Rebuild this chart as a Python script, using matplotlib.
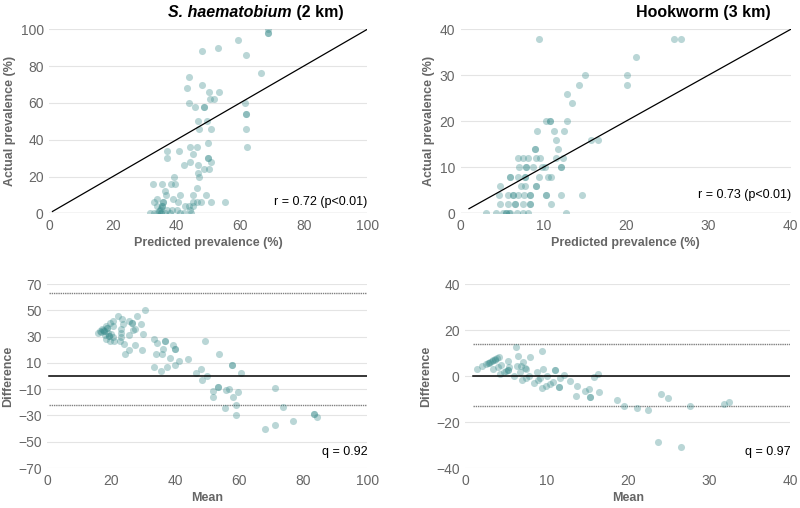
import numpy as np
import matplotlib
matplotlib.use('Agg')
import matplotlib.pyplot as plt

plt.rcParams['font.family'] = ['Liberation Sans', 'DejaVu Sans']

# S. haematobium (2 km): predicted vs actual prevalence
sh_pred = [68.9, 68.9, 68.9, 59.3, 47.9, 53.0, 61.8, 66.5, 44.0, 43.4, 48.0, 50.1, 53.3,
           50.5, 51.8, 43.8, 45.9, 48.6, 48.6, 61.6, 61.8, 61.8, 46.7, 49.7, 47.2, 50.7,
           62.0, 62.3, 44.4, 46.5, 49.9, 37.1, 40.9, 45.3, 36.9, 49.9, 49.9, 50.9, 44.2,
           46.7, 42.3, 48.8, 50.1, 46.7, 47.2, 39.2, 32.5, 35.4, 38.4, 39.6, 46.3, 36.5,
           36.7, 41.1, 45.1, 49.3, 38.8, 34.0, 33.0, 35.9, 35.9, 40.5, 45.3, 46.3, 47.6,
           50.9, 55.3, 33.8, 35.6, 35.6, 42.8, 43.8, 45.3, 34.8, 36.9, 38.6, 40.2, 44.4,
           31.7, 33.0, 33.8, 35.2, 35.2, 36.3, 38.0, 41.1, 42.3, 44.6, 34.5, 35.0]
sh_act = [100, 98, 98, 94, 88, 90, 86, 76, 74, 68, 70, 66, 66,
          62, 62, 60, 58, 58, 58, 60, 54, 54, 50, 50, 46, 46,
          46, 36, 36, 36, 38, 34, 34, 32, 30, 30, 30, 28, 28,
          26, 26, 24, 24, 22, 20, 20, 16, 16, 16, 16, 14, 12,
          10, 10, 10, 10, 8, 8, 6, 6, 6, 6, 6, 6, 6,
          6, 6, 4, 4, 4, 4, 4, 4, 2, 2, 2, 2, 2,
          0, 0, 0, 0, 0, 0, 0, 0, 0, 0, 1, 3]

# Hookworm (3 km): predicted vs actual prevalence
hw_pred = [9.5, 25.9, 26.7, 21.3, 15.1, 20.2, 20.2, 14.3, 12.9, 13.5, 10.3, 10.8, 10.8,
           12.9, 9.3, 11.3, 12.5, 11.6, 15.8, 16.6, 9.0, 9.0, 11.8, 6.9, 7.6, 8.2, 9.1,
           9.6, 11.5, 12.4, 7.1, 7.9, 7.9, 8.8, 9.9, 10.2, 12.2, 12.2, 6.0, 6.0, 6.9,
           7.8, 7.8, 9.5, 10.6, 11.0, 4.8, 7.3, 7.8, 9.1, 9.1, 4.6, 5.7, 6.3, 6.3, 6.9,
           7.7, 8.4, 8.4, 10.3, 10.3, 12.2, 14.7, 4.8, 5.7, 6.6, 6.6, 7.5, 8.4, 8.4,
           11.0, 3.1, 4.3, 5.1, 5.5, 5.5, 5.8, 6.0, 6.8, 7.6, 8.2, 12.8]
hw_act = [38, 38, 38, 34, 30, 30, 28, 28, 26, 24, 20, 20, 20,
          20, 18, 18, 18, 16, 16, 16, 14, 14, 14, 12, 12, 12, 12,
          12, 12, 12, 10, 10, 10, 10, 10, 10, 10, 10, 8, 8, 8,
          8, 8, 8, 8, 8, 6, 6, 6, 6, 6, 4, 4, 4, 4, 4,
          4, 4, 4, 4, 4, 4, 4, 2, 2, 2, 2, 2, 2, 2,
          2, 0, 0, 0, 0, 0, 0, 0, 0, 0, 0, 0]

# Bland-Altman, S. haematobium
sh_mean = [30.4, 22.1, 28.1, 23.3, 25.6, 26.5, 26.5, 20.6, 29.4, 23.8, 19.6, 18.5, 17.1,
           16.5, 15.8, 17.7, 17.7, 18.8, 18.8, 20.6, 22.9, 22.9, 27.3, 26.9, 19.2, 19.2,
           20.6, 23.1, 25.4, 30.0, 18.3, 19.6, 21.0, 22.7, 23.9, 27.3, 33.3, 34.4, 36.7,
           36.7, 36.2, 39.4, 39.8, 39.8, 49.2, 25.4, 29.6, 24.2, 33.9, 35.8, 53.8, 38.5,
           43.9, 41.3, 40.0, 33.3, 37.3, 35.4, 57.7, 57.7, 48.1, 46.5, 60.6, 49.8, 48.3,
           53.3, 53.3, 56.7, 56.0, 71.3, 51.9, 59.6, 51.9, 57.9, 58.9, 55.6, 73.8, 58.9,
           76.7, 71.3, 67.9, 83.3, 83.3, 84.4, 17.5, 19.0, 20.0, 16.8, 18.0]
sh_diff = [49.9, 45.3, 45.3, 43.3, 41.7, 40.2, 40.2, 41.7, 39.7, 39.7, 40.2, 38.2, 36.1,
           34.6, 33.0, 34.1, 34.1, 36.6, 36.6, 37.7, 35.6, 32.6, 36.1, 35.1, 30.5, 30.5,
           30.0, 30.0, 31.0, 32.0, 28.5, 27.0, 26.5, 26.5, 24.4, 23.4, 28.0, 25.4, 26.5,
           26.5, 20.9, 23.4, 20.4, 20.4, 27.0, 19.8, 19.8, 16.8, 16.8, 16.8, 16.8, 13.7,
           12.7, 11.2, 8.7, 7.1, 7.1, 3.6, 8.1, 8.1, 5.1, 2.0, 2.0, 0.0, -3.1,
           -8.7, -8.7, -9.7, -10.7, -9.2, -11.7, -12.2, -15.8, -15.8, -21.9, -24.4, -23.4, -29.5,
           -34.1, -37.2, -40.2, -29.0, -29.0, -31.0, 35.0, 33.0, 32.0, 33.5, 31.5]
sh_limits = [63.5, -22.3]

# Bland-Altman, Hookworm
hw_mean = [1.5, 2.1, 2.6, 2.9, 3.3, 3.7, 4.1, 3.1, 3.4, 3.9, 3.4, 4.0, 4.4, 4.3, 4.8,
           5.2, 5.4, 5.2, 6.4, 6.0, 6.3, 6.5, 6.7, 7.1, 7.0, 7.5, 7.5, 7.9, 8.0, 8.8,
           9.4, 8.5, 8.9, 9.2, 9.6, 9.5, 9.9, 10.0, 10.4, 10.8, 11.1, 11.1, 11.5, 11.5,
           11.7, 12.2, 12.9, 13.7, 13.6, 14.7, 15.2, 15.4, 15.4, 15.9, 16.3, 16.4, 18.7,
           19.5, 21.1, 22.5, 24.1, 25.0, 23.7, 26.5, 27.6, 31.9, 32.4, 2.8, 3.6, 5.3, 7.4,
           5.0, 6.8]
hw_diff = [3.0, 4.5, 5.4, 5.7, 6.5, 7.4, 8.3, 6.2, 6.8, 7.7, 3.0, 3.9, 4.8, 1.0, 1.9,
           2.8, 3.9, 6.5, 4.2, 0.0, 12.6, 8.8, 1.6, 6.2, -1.9, -1.0, 3.0, 0.0, 8.3, 1.6,
           10.9, -3.0, -1.9, -1.0, 3.0, -5.1, -4.2, 0.0, -3.3, -2.5, 2.5, 2.5, -4.8, -4.8,
           -0.7, 0.4, -2.2, -4.5, -8.6, -6.5, -5.7, -9.1, -9.1, -0.4, 0.7, -7.1, -10.6,
           -13.2, -13.8, -14.9, -7.7, -9.7, -28.6, -30.9, -12.9, -12.0, -11.4, 5.5, 7.0, 2.5, 3.3,
           2.3, 4.4]
hw_limits = [14.1, -13.0]

pt_color = '#3a8c8c'
grey = '#666666'
grid_c = '#e4e4e4'
msize = 26

fig = plt.figure(figsize=(8, 5.08), dpi=100)
ax1 = fig.add_axes([0.0616, 0.5801, 0.3975, 0.3622])
ax2 = fig.add_axes([0.5759, 0.5801, 0.4125, 0.3622])
ax3 = fig.add_axes([0.0591, 0.0787, 0.4000, 0.3622])
ax4 = fig.add_axes([0.5816, 0.0787, 0.4063, 0.3622])


def style(ax, xlim, ylim, yticks, xticks, xlabel, ylabel):
    ax.set_xlim(*xlim)
    ax.set_ylim(*ylim)
    ax.set_yticks(yticks)
    ax.set_xticks(xticks)
    for s in ax.spines.values():
        s.set_visible(False)
    ax.tick_params(length=0, labelsize=10, colors=grey, pad=4)
    for y in yticks:
        ax.axhline(y, color=grid_c, lw=0.8, zorder=0)
    ax.set_xlabel(xlabel, fontsize=9, fontweight='bold', color=grey, labelpad=3)
    ax.set_ylabel(ylabel, fontsize=9, fontweight='bold', color=grey, labelpad=3)


# top panels
style(ax1, (0, 100), (0, 100), [0, 20, 40, 60, 80, 100], [0, 20, 40, 60, 80, 100],
      'Predicted prevalence (%)', 'Actual prevalence (%)')
ax1.axhline(0, color='#d0d0d0', lw=1, zorder=0)
ax1.scatter(sh_pred, sh_act, s=msize, color=pt_color, alpha=0.35, linewidths=0, zorder=2)
ax1.plot([1, 100], [1, 100], color='black', lw=0.9, zorder=3)
ax1.text(100, 6, 'r = 0.72 (p<0.01)', ha='right', va='center', fontsize=9)

style(ax2, (0, 40), (0, 40), [0, 10, 20, 30, 40], [0, 10, 20, 30, 40],
      'Predicted prevalence (%)', 'Actual prevalence (%)')
ax2.axhline(0, color='#d0d0d0', lw=1, zorder=0)
ax2.scatter(hw_pred, hw_act, s=msize, color=pt_color, alpha=0.35, linewidths=0, zorder=2)
ax2.plot([1, 40], [1, 40], color='black', lw=0.9, zorder=3)
ax2.text(40, 4, 'r = 0.73 (p<0.01)', ha='right', va='center', fontsize=9)

# bottom panels
style(ax3, (0, 100), (-70, 70), [-70, -50, -30, -10, 10, 30, 50, 70], [0, 20, 40, 60, 80, 100],
      'Mean', 'Difference')
ax3.scatter(sh_mean, sh_diff, s=msize, color=pt_color, alpha=0.35, linewidths=0, zorder=2)
ax3.plot([0.6, 100], [0, 0], color='black', lw=1.1, zorder=3)
for lim in sh_limits:
    ax3.plot([0.6, 100], [lim, lim], color='#808080', lw=1, ls=(0, (1, 0.6)), zorder=1)
ax3.text(100, -58, 'q = 0.92', ha='right', va='center', fontsize=9)

style(ax4, (0, 40), (-40, 40), [-40, -20, 0, 20, 40], [0, 10, 20, 30, 40],
      'Mean', 'Difference')
ax4.scatter(hw_mean, hw_diff, s=msize, color=pt_color, alpha=0.35, linewidths=0, zorder=2)
ax4.plot([1, 40], [0, 0], color='black', lw=1.1, zorder=3)
for lim in hw_limits:
    ax4.plot([1, 40], [lim, lim], color='#808080', lw=1, ls=(0, (1, 0.6)), zorder=1)
ax4.text(40, -33, 'q = 0.97', ha='right', va='center', fontsize=9)

# titles, one part italic
t1 = fig.text(0.21, 0.975, 'S. haematobium', fontsize=11.5, fontweight='bold',
              style='italic', ha='left', va='center')
r = fig.canvas.get_renderer()
bb = t1.get_window_extent(renderer=r)
fig.text(bb.x1 / fig.bbox.width, 0.975, ' (2 km)', fontsize=11.5, fontweight='bold',
         ha='left', va='center')
fig.text(0.795, 0.975, 'Hookworm (3 km)', fontsize=11.5, fontweight='bold',
         ha='left', va='center')

fig.savefig('out.png', dpi=100)
